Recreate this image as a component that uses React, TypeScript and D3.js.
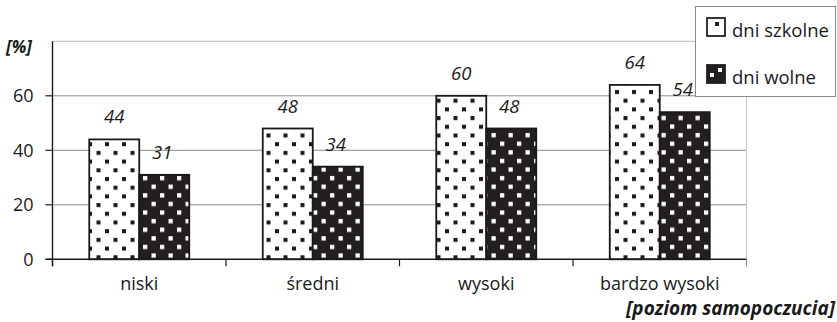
import React from "react";
import * as d3 from "d3";

const categories = ["niski", "średni", "wysoki", "bardzo wysoki"];
const seriesNames = ["dni szkolne", "dni wolne"];
const schoolDays = [44, 48, 60, 64];
const freeDays = [31, 34, 48, 54];
const yTicks = [0, 20, 40, 60];
const yAxisTitle = "[%]";
const xAxisTitle = "[poziom samopoczucia]";

const W = 837;
const H = 322;
const FONT = "'Open Sans', 'Noto Sans', sans-serif";
const INK = "#1a1a1a";

export default function App() {
  const left = 52.5;
  const right = 746.5;
  const y0 = 259.3;
  const yTop = 41.3;

  const x = d3.scaleBand<string>().domain(categories).range([left, right]).paddingInner(0).paddingOuter(0);
  const xs = d3.scaleBand<string>().domain(seriesNames).range([0, x.bandwidth()]).paddingInner(0).paddingOuter(0.735);
  const y = d3.scaleLinear().domain([0, 80]).range([y0, yTop]);

  const series = [schoolDays, freeDays];
  const boundaries = [...categories.map((c) => x(c)!), right];

  return (
    <svg width={W} height={H} style={{ position: "absolute", left: 0, top: 0, background: "#fff" }}>
      <defs>
        <pattern id="dotsLight" patternUnits="userSpaceOnUse" width={17} height={17.4} x={1} y={1}>
          <rect width={17} height={17.4} fill="#fff" />
          <rect x={2} y={2} width={4} height={4} fill={INK} />
          <rect x={10.5} y={10.7} width={4} height={4} fill={INK} />
        </pattern>
        <pattern id="dotsDark" patternUnits="userSpaceOnUse" width={17} height={17.2} x={5} y={2}>
          <rect width={17} height={17.2} fill="#231f20" />
          <rect x={2} y={2} width={4.3} height={4.3} fill="#fff" />
          <rect x={10.5} y={10.6} width={4.3} height={4.3} fill="#fff" />
        </pattern>
      </defs>

      {/* gridlines */}
      {yTicks.filter((t) => t > 0).map((t) => (
        <line key={t} x1={left - 7} x2={right} y1={y(t)} y2={y(t)} stroke="#8a8a8a" strokeWidth={1} />
      ))}
      <line x1={left} x2={right} y1={y(80)} y2={y(80)} stroke="#c8c8c8" strokeWidth={1.2} />
      <line x1={right} x2={right} y1={y(80)} y2={y0} stroke="#c8c8c8" strokeWidth={1.2} />

      {/* bars */}
      {series.map((vals, si) =>
        categories.map((c, ci) => {
          const bx = x(c)! + xs(seriesNames[si])!;
          const by = y(vals[ci]);
          return (
            <rect
              key={`${si}-${ci}`}
              x={bx}
              y={by}
              width={xs.bandwidth()}
              height={y0 - by}
              fill={si === 0 ? "url(#dotsLight)" : "url(#dotsDark)"}
              stroke={INK}
              strokeWidth={1.8}
            />
          );
        })
      )}

      {/* value labels */}
      {series.map((vals, si) =>
        categories.map((c, ci) => (
          <text
            key={`l${si}-${ci}`}
            x={x(c)! + xs(seriesNames[si])! + xs.bandwidth() / 2 - (si === 1 ? 2 : 0)}
            y={y(vals[ci]) - 16}
            textAnchor="middle"
            fontFamily={FONT}
            fontStyle="italic"
            fontWeight={500}
            fontSize={18.5}
            fill={INK}
          >
            {vals[ci]}
          </text>
        ))
      )}

      {/* axes */}
      <line x1={left} x2={left} y1={yTop} y2={y0 + 7} stroke={INK} strokeWidth={1.4} />
      <line x1={left - 7} x2={right} y1={y0} y2={y0} stroke={INK} strokeWidth={1.4} />
      {boundaries.map((b, i) => (
        <line key={i} x1={b} x2={b} y1={y0} y2={y0 + 7} stroke={i === boundaries.length - 1 ? "#888" : INK} strokeWidth={1.2} />
      ))}
      {yTicks.map((t) => (
        <g key={t}>
          <line x1={left - 7} x2={left} y1={y(t)} y2={y(t)} stroke={INK} />
          <text x={33.5} y={y(t) + 6.5} textAnchor="end" fontFamily={FONT} fontWeight={500} fontSize={18} fill={INK}>
            {t}
          </text>
        </g>
      ))}
      {categories.map((c) => (
        <text key={c} x={x(c)! + x.bandwidth() / 2} y={290} textAnchor="middle" fontFamily={FONT} fontWeight={500} fontSize={18} fill={INK}>
          {c}
        </text>
      ))}

      <text x={6} y={53} fontFamily={FONT} fontWeight="bold" fontStyle="italic" fontSize={17} fill={INK}>
        {yAxisTitle}
      </text>
      <text x={835} y={315} textAnchor="end" fontFamily={FONT} fontWeight="bold" fontStyle="italic" fontSize={19} fill={INK}>
        {xAxisTitle}
      </text>

      {/* legend */}
      <rect x={695.5} y={6.5} width={140} height={90} fill="#fff" stroke="#8a8a8a" strokeWidth={1} />
      {seriesNames.map((s, i) => (
        <g key={s} transform={`translate(707, ${18 + i * 47})`}>
          <rect x={0} y={0} width={18} height={18} fill={i === 0 ? "#fff" : "#231f20"} stroke="#231f20" strokeWidth={1.8} />
          <rect x={i === 0 ? 8 : 3} y={i === 0 ? 4 : 8} width={4} height={4} fill={i === 0 ? "#231f20" : "#fff"} />
          {i === 1 && <rect x={11} y={3} width={4} height={4} fill="#fff" />}
          <text x={25} y={18.5} fontFamily={FONT} fontWeight={500} fontSize={18.5} fill={INK}>
            {s}
          </text>
        </g>
      ))}
    </svg>
  );
}
